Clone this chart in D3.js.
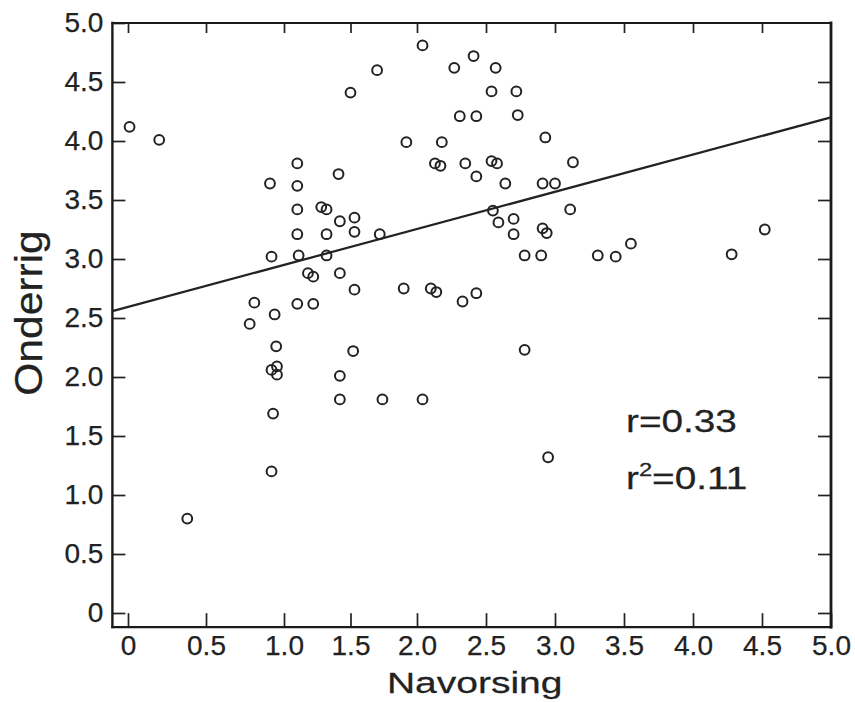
<!doctype html>
<html>
  <head>
    <meta charset="utf-8">
    <title>Onderrig vs Navorsing</title>
    <script src="https://cdnjs.cloudflare.com/ajax/libs/d3/7.8.5/d3.min.js"></script>
    <style>
      body { margin: 0; background: #fff; }
      text { font-family: "Liberation Sans", Arial, sans-serif; fill: #222; stroke: #222; stroke-width: 0.25px; }
    </style>
  </head>
  <body>
    <div id="chart"></div>
    <script>
      // data
      const navorsing = [0.01,0.20,2.04,1.70,1.50,1.92,1.10,1.41,0.91,1.10,
        1.10,1.28,1.32,1.42,1.53,1.10,1.32,1.53,1.72,0.92,
        1.11,1.32,1.18,1.22,1.42,1.53,1.90,2.10,2.14,0.81,
        1.10,1.22,0.94,0.78,0.95,1.52,0.92,0.955,0.955,1.42,
        1.42,1.74,2.04,0.93,0.92,0.38,2.41,2.27,2.57,2.54,
        2.72,2.31,2.43,2.73,2.18,2.93,2.13,2.17,2.35,2.54,
        2.58,3.13,2.43,2.64,2.91,3.00,2.55,3.11,2.59,2.70,
        2.70,2.91,2.94,2.78,2.90,3.31,3.44,3.55,4.28,4.52,
        2.33,2.43,2.78,2.95];
      const onderrig = [4.12,4.01,4.81,4.60,4.41,3.99,3.81,3.72,3.64,3.62,
        3.42,3.44,3.42,3.32,3.35,3.21,3.21,3.23,3.21,3.02,
        3.03,3.03,2.88,2.85,2.88,2.74,2.75,2.75,2.72,2.63,
        2.62,2.62,2.53,2.45,2.26,2.22,2.06,2.09,2.02,2.01,
        1.81,1.81,1.81,1.69,1.20,0.80,4.72,4.62,4.62,4.42,
        4.42,4.21,4.21,4.22,3.99,4.03,3.81,3.79,3.81,3.83,
        3.81,3.82,3.70,3.64,3.64,3.64,3.41,3.42,3.31,3.34,
        3.21,3.26,3.22,3.03,3.03,3.03,3.02,3.13,3.04,3.25,
        2.64,2.71,2.23,1.32];

      const xTicks = [0, 0.5, 1, 1.5, 2, 2.5, 3, 3.5, 4, 4.5, 5];
      const yTicks = [0, 0.5, 1, 1.5, 2, 2.5, 3, 3.5, 4, 4.5, 5];

      // fitted line
      const regIntercept = 2.59, regSlope = 0.322;
      const rText = "r=0.33", r2Value = "=0.11";

      const width = 855, height = 702;
      const xMin = -0.1, xMax = 5, yMin = -0.12, yMax = 5;

      // the scanned x axis is a bit stretched at the low end
      const x = d3.scaleLinear().domain([0, 1, 2, 5]).range([128, 284, 417, 831]);
      const y = d3.scaleLinear().domain([0, 5]).range([613, 23]);

      const plotL = x(xMin), plotR = x(xMax), plotT = y(yMax), plotB = y(yMin);
      const fmt = d => d === 0 ? "0" : d3.format(".1f")(d);

      const svg = d3.select("#chart").append("svg")
        .attr("width", width).attr("height", height);

      svg.append("rect").attr("width", width).attr("height", height).attr("fill", "#fff");

      // axes, ticks pointing inward
      const bottomAxis = svg.append("g").attr("transform", `translate(0,${plotB})`)
        .call(d3.axisBottom(x).tickValues(xTicks).tickSize(-14).tickPadding(8).tickFormat(fmt));
      svg.append("g").attr("transform", `translate(0,${plotT})`)
        .call(d3.axisTop(x).tickValues(xTicks.slice(0, -1)).tickSize(-10).tickFormat(""));
      svg.append("g").attr("transform", `translate(${plotL},0)`)
        .call(d3.axisLeft(y).tickValues(yTicks).tickSize(-13).tickPadding(9).tickFormat(fmt));
      svg.append("g").attr("transform", `translate(${plotR},0)`)
        .call(d3.axisRight(y).tickValues(yTicks.slice(0, -1)).tickSize(-13).tickFormat(""));

      svg.selectAll(".domain").remove();
      svg.selectAll(".tick line").attr("stroke", "#222").attr("stroke-width", 1.7);
      svg.selectAll(".tick text").style("font-size", "28px").attr("fill", "#222")
        .style("font-family", "'Liberation Sans', Arial, sans-serif");
      bottomAxis.selectAll(".tick text").attr("dy", "0.71em");

      // frame
      const frame = [
        [plotL, plotT, plotL, plotB, 2.4],
        [plotL, plotB, plotR, plotB, 2.4],
        [plotR, plotT, plotR, plotB, 2.8],
        [plotL, plotT, plotR, plotT, 1.8]
      ];
      svg.append("g").selectAll("line").data(frame).join("line")
        .attr("x1", d => d[0]).attr("y1", d => d[1])
        .attr("x2", d => d[2]).attr("y2", d => d[3])
        .attr("stroke", "#1a1a1a").attr("stroke-width", d => d[4])
        .attr("stroke-linecap", "square");

      // regression line
      svg.append("line")
        .attr("x1", x(xMin)).attr("y1", y(regIntercept + regSlope * xMin))
        .attr("x2", x(xMax)).attr("y2", y(regIntercept + regSlope * xMax))
        .attr("stroke", "#222").attr("stroke-width", 2.2);

      // points
      svg.append("g").selectAll("circle")
        .data(navorsing.map((v, i) => [v, onderrig[i]]))
        .join("circle")
        .attr("cx", d => x(d[0])).attr("cy", d => y(d[1]))
        .attr("r", 4.9)
        .attr("fill", "none").attr("stroke", "#222").attr("stroke-width", 2);

      // axis titles (scan is stretched sideways, so stretch the text too)
      svg.append("text")
        .attr("transform", `translate(${(plotL + plotR) / 2 + 3},693) scale(1.3,1)`)
        .attr("text-anchor", "middle")
        .style("font-size", "30px")
        .text("Navorsing");

      svg.append("text")
        .attr("transform", "translate(42,313) rotate(-90) scale(1.12,1)")
        .attr("text-anchor", "middle")
        .style("font-size", "38px")
        .text("Onderrig");

      // r annotation
      svg.append("text")
        .attr("transform", "translate(626,432) scale(1.25,1)")
        .style("font-size", "31px")
        .text(rText);

      const r2 = svg.append("text")
        .attr("transform", "translate(626,489) scale(1.25,1)")
        .style("font-size", "31px");
      r2.append("tspan").text("r");
      r2.append("tspan").attr("dy", -13).style("font-size", "19px").text("2");
      r2.append("tspan").attr("dy", 13).text(r2Value);
    </script>
  </body>
</html>
